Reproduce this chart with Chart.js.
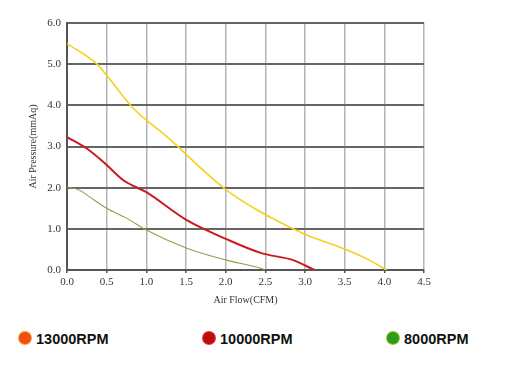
<!DOCTYPE html>
<html>
<head>
<meta charset="utf-8">
<script src="https://cdn.jsdelivr.net/npm/chart.js@4"></script>
<style>
    html, body { margin: 0; padding: 0; background: #fff; }
    #wrap { position: relative; width: 510px; height: 377px; }
    #wrap canvas { position: absolute; left: 0; top: 0; }
    .leg { position: absolute; top: 331px; font: bold 14.5px "Liberation Sans", Arial, sans-serif; color: #111; white-space: nowrap; }
    .leg i { display: inline-block; width: 12px; height: 12px; border-radius: 50%; vertical-align: 0px; margin-right: 5px; }
</style>
</head>
<body>
<div id="wrap">
    <canvas id="cFan" width="510" height="310"></canvas>
    <div class="leg" style="left:19px"><i style="background:#f04e12;box-shadow:0 0 0 1px #f7a23a"></i>13000RPM</div>
    <div class="leg" style="left:203px"><i style="background:#c10a0a;box-shadow:0 0 0 1px #d84040"></i>10000RPM</div>
    <div class="leg" style="left:387px"><i style="background:#2f9a1c;box-shadow:0 0 0 1px #9ac83a"></i>8000RPM</div>
</div>
<script>
// ===== Fan P-Q curves =====
const flow13k = [0, 0.38, 0.5, 0.82, 1.0, 1.21, 1.42, 1.51, 2.01, 2.43, 2.85, 3.02, 3.5, 3.78, 4.03];
const pres13k = [5.5, 5.0, 4.73, 3.96, 3.64, 3.32, 2.96, 2.79, 1.94, 1.42, 1.0, 0.85, 0.51, 0.27, 0.0];

const flow10k = [0, 0.28, 0.5, 0.71, 1.0, 1.51, 2.01, 2.45, 2.85, 3.12];
const pres10k = [3.23, 2.91, 2.55, 2.18, 1.89, 1.21, 0.75, 0.41, 0.24, 0.0];

const flow8k = [0, 0.16, 0.29, 0.5, 0.75, 1.0, 1.51, 2.01, 2.43, 2.5];
const pres8k = [2.02, 1.94, 1.77, 1.5, 1.26, 0.97, 0.53, 0.24, 0.05, 0.0];

const xTicks = [0, 0.5, 1.0, 1.5, 2.0, 2.5, 3.0, 3.5, 4.0, 4.5];
const yTicks = [0, 1, 2, 3, 4, 5, 6];

const pts = (xs, ys) => xs.map((x, i) => ({ x, y: ys[i] }));
const serifFam = '"Liberation Serif", "Times New Roman", serif';
const tickFont = { family: serifFam, size: 11 };
const titleFont = { family: serifFam, size: 10 };

new Chart(document.getElementById('cFan').getContext('2d'), {
    type: 'line',
    data: {
        datasets: [
            { label: '13000RPM', data: pts(flow13k, pres13k), borderColor: '#f2d21c', borderWidth: 1.6 },
            { label: '10000RPM', data: pts(flow10k, pres10k), borderColor: '#cc1a22', borderWidth: 2 },
            { label: '8000RPM', data: pts(flow8k, pres8k), borderColor: '#8ca34a', borderWidth: 1.1 }
        ]
    },
    options: {
        responsive: false,
        animation: false,
        elements: { point: { radius: 0 }, line: { cubicInterpolationMode: 'monotone' } },
        layout: { padding: { top: 23, right: 86, left: 0, bottom: 0 } },
        plugins: { legend: { display: false }, tooltip: { enabled: false } },
        scales: {
            x: {
                type: 'linear', min: 0, max: 4.5,
                afterBuildTicks: s => { s.ticks = xTicks.map(v => ({ value: v })); },
                afterFit: s => { s.height = 40; },
                ticks: { callback: v => v.toFixed(1), font: tickFont, color: '#333', padding: 3, maxRotation: 0 },
                grid: { color: '#b4b4b4', lineWidth: 1.5, drawTicks: true, tickLength: 3, tickColor: '#555' },
                border: { color: '#555', width: 2 },
                title: { display: true, text: 'Air Flow(CFM)', font: titleFont, color: '#333', padding: { top: 0 } }
            },
            y: {
                min: 0, max: 6,
                afterBuildTicks: s => { s.ticks = yTicks.map(v => ({ value: v })); },
                afterFit: s => { s.width = 67; },
                ticks: { callback: v => v.toFixed(1), font: tickFont, color: '#333', padding: 6 },
                grid: { color: '#666', lineWidth: 2, drawTicks: false },
                border: { color: '#555', width: 2 },
                title: { display: true, text: 'Air Pressure(mmAq)', font: titleFont, color: '#333', padding: { top: 27 } }
            }
        }
    }
});
</script>
</body>
</html>
